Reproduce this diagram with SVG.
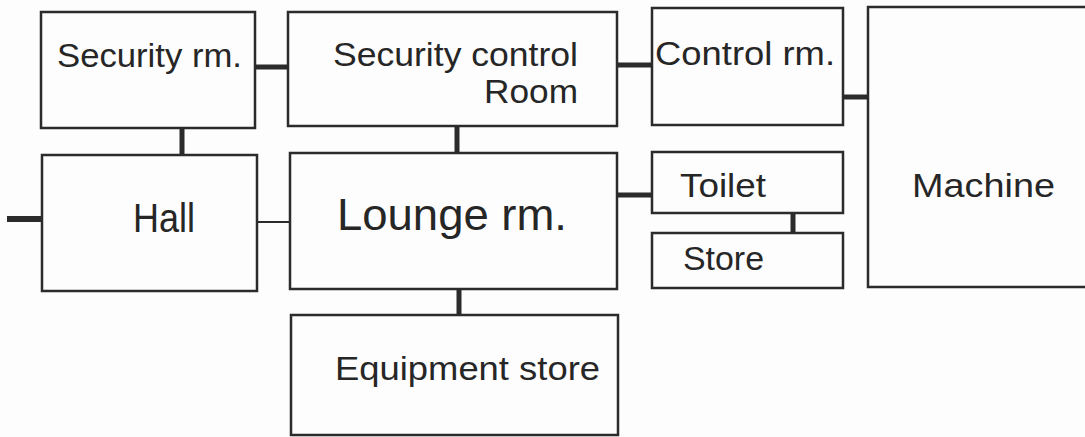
<svg xmlns="http://www.w3.org/2000/svg" width="1085" height="437" viewBox="0 0 1085 437">
<style>
.box{fill:none;stroke:#2b2b2b;stroke-width:2.5}
.c{stroke:#2b2b2b;stroke-width:5;fill:none}
.thin{stroke:#2b2b2b;stroke-width:2;fill:none}
text{font-family:"Liberation Sans",Arial,sans-serif;fill:#262626}
</style>
<rect width="1085" height="437" fill="#fdfdfd"/>
<g id="connectors">
<line class="c" x1="255" y1="67" x2="288" y2="67"/>
<line class="c" x1="617" y1="65" x2="652" y2="65"/>
<line class="c" x1="843" y1="97" x2="868" y2="97"/>
<line class="c" x1="182" y1="128" x2="182" y2="155"/>
<line class="c" x1="457" y1="126" x2="457" y2="153"/>
<line class="c" x1="7" y1="219" x2="42" y2="219" style="stroke-width:6"/>
<line class="thin" x1="257" y1="222" x2="290" y2="222"/>
<line class="c" x1="617" y1="195" x2="652" y2="195"/>
<line class="c" x1="793" y1="213" x2="793" y2="233"/>
<line class="c" x1="459" y1="289" x2="459" y2="315"/>
</g>
<g id="security-rm">
<rect class="box" x="41" y="12" width="214" height="116"/>
<text x="57" y="67" font-size="34" textLength="185" lengthAdjust="spacingAndGlyphs">Security rm.</text>
</g>
<g id="security-control-room">
<rect class="box" x="288" y="12" width="329" height="114"/>
<text x="333" y="66" font-size="34" textLength="245" lengthAdjust="spacingAndGlyphs">Security control</text>
<text x="484" y="103" font-size="34" textLength="94" lengthAdjust="spacingAndGlyphs">Room</text>
</g>
<g id="control-rm">
<rect class="box" x="652" y="8" width="191" height="117"/>
<text x="655" y="65" font-size="33" textLength="180" lengthAdjust="spacingAndGlyphs">Control rm.</text>
</g>
<g id="machine">
<rect class="box" x="868" y="7" width="230" height="280"/>
<text x="912" y="197" font-size="33" textLength="143" lengthAdjust="spacingAndGlyphs">Machine</text>
</g>
<g id="hall">
<rect class="box" x="42" y="155" width="215" height="136"/>
<text x="133" y="232" font-size="40" textLength="62" lengthAdjust="spacingAndGlyphs">Hall</text>
</g>
<g id="lounge-rm">
<rect class="box" x="290" y="153" width="327" height="136"/>
<text x="337" y="230" font-size="45" textLength="230" lengthAdjust="spacingAndGlyphs">Lounge rm.</text>
</g>
<g id="toilet">
<rect class="box" x="652" y="152" width="191" height="61"/>
<text x="680" y="197" font-size="33" textLength="86" lengthAdjust="spacingAndGlyphs">Toilet</text>
</g>
<g id="store">
<rect class="box" x="652" y="233" width="191" height="55"/>
<text x="683" y="270" font-size="33" textLength="81" lengthAdjust="spacingAndGlyphs">Store</text>
</g>
<g id="equipment-store">
<rect class="box" x="291" y="315" width="327" height="120"/>
<text x="335" y="380" font-size="34" textLength="265" lengthAdjust="spacingAndGlyphs">Equipment store</text>
</g>
</svg>
